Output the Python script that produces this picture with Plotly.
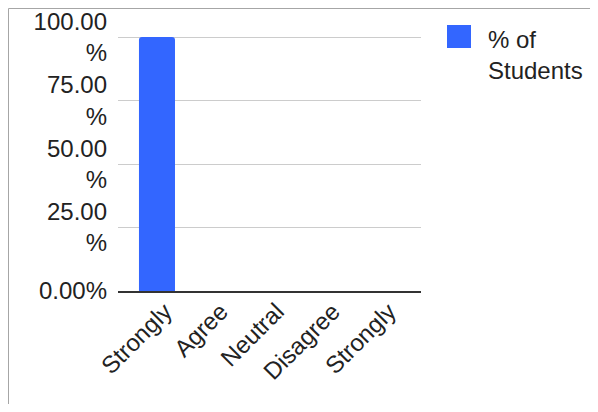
import plotly.graph_objects as go

categories = ["Strongly", "Agree", "Neutral", "Disagree", "Strongly"]
values = [100, 0, 0, 0, 0]
series_name = "% of Students"
y_tick_vals = [0, 25, 50, 75, 100]
y_tick_text = ["0.00%", "25.00<br>%", "50.00<br>%", "75.00<br>%", "100.00<br>%"]

OFF = 8  # page body margin
W, H = 598 - 2 * OFF, 412 - 2 * OFF
# plot area in reference-screen pixels
X0, X1, Y0, Y1 = 118, 421, 36, 291
L, R, T, B = X0 - OFF, W - (X1 - OFF), Y0 - OFF, H - (Y1 - OFF)
pw, ph = W - L - R, H - T - B

def px_x(p):
    return (p - X0) / pw

def px_y(p):
    return (Y1 - p) / ph

FONT = "Liberation Sans, Arial, sans-serif"
FS = 24
BLUE = "#3366ff"

fig = go.Figure()
fig.add_trace(go.Bar(
    x=list(range(len(categories))), y=values, name=series_name,
    marker=dict(color=BLUE, line=dict(width=0)),
    width=0.643, showlegend=False,
))

fig.update_layout(
    width=W, height=H,
    margin=dict(l=L, r=R, t=T, b=B, pad=0),
    paper_bgcolor="white", plot_bgcolor="white",
    font=dict(family=FONT, size=FS, color="#222222"),
    barcornerradius=3,
    xaxis=dict(
        tickmode="array", tickvals=list(range(len(categories))), ticktext=categories,
        range=[-0.696, 4.714], tickangle=-45, showgrid=False, zeroline=False,
        showline=True, linecolor="#333333", linewidth=2, ticks="",
        automargin=False, ticklabelshift=8, ticklabelstandoff=-5,
        ticklabeloverflow="allow",
        tickfont=dict(family=FONT, size=FS, color="#222222"),
    ),
    yaxis=dict(
        tickmode="array", tickvals=y_tick_vals, ticktext=y_tick_text,
        range=[0, 100.4], showgrid=True, gridcolor="#cccccc", gridwidth=1,
        zeroline=False, showline=False, ticks="", ticklabelstandoff=10,
        automargin=False, ticklabeloverflow="allow",
        tickfont=dict(family=FONT, size=FS, color="#222222"),
    ),
    shapes=[
        dict(type="rect", xref="paper", yref="paper",
             x0=px_x(447), x1=px_x(471), y0=px_y(48), y1=px_y(25),
             fillcolor=BLUE, line=dict(width=0)),
        dict(type="line", xref="paper", yref="paper",
             x0=px_x(8.5), x1=px_x(700), y0=px_y(8.5), y1=px_y(8.5),
             line=dict(color="#a6a6a6", width=1)),
        dict(type="line", xref="paper", yref="paper",
             x0=px_x(8.5), x1=px_x(8.5), y0=px_y(8.5), y1=px_y(500),
             line=dict(color="#a6a6a6", width=1)),
    ],
    annotations=[
        dict(text="% of<br>Students", xref="paper", yref="paper",
             x=px_x(486), y=px_y(24), xanchor="left", yanchor="top",
             align="left", showarrow=False,
             font=dict(family=FONT, size=FS, color="#222222")),
    ],
)

fig.write_html("out.html")
